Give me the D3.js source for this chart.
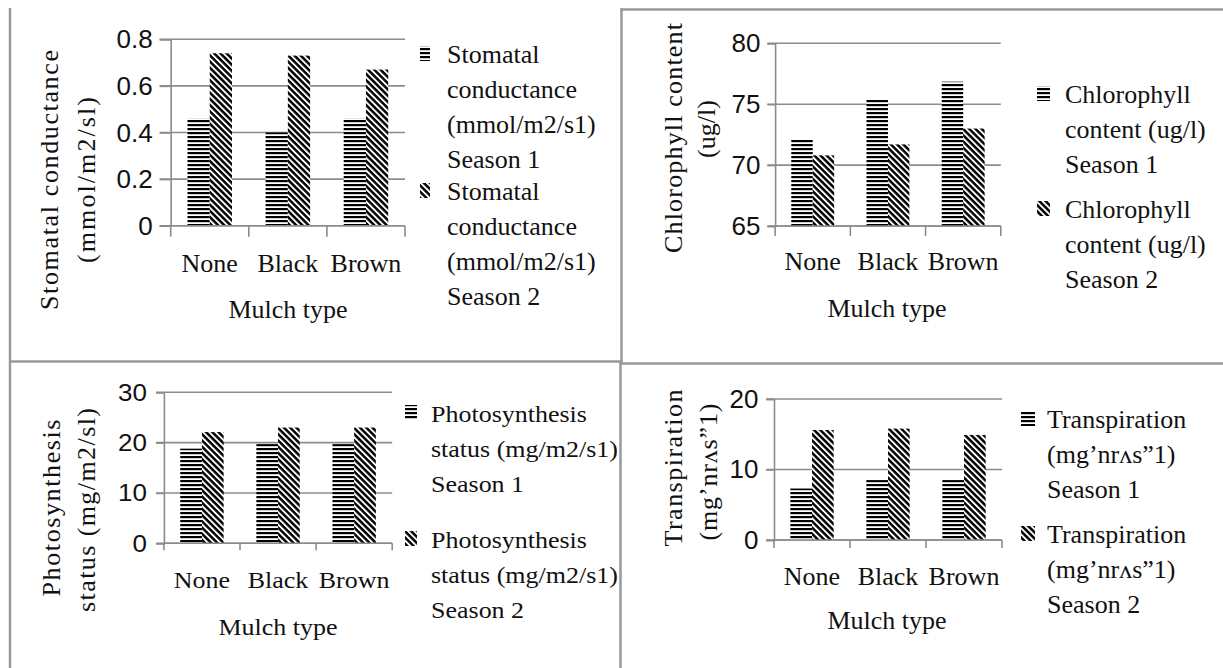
<!DOCTYPE html>
<html>
<head>
<meta charset="utf-8">
<script src="https://cdn.jsdelivr.net/npm/d3@7"></script>
<style>
  html, body { margin: 0; padding: 0; background: #fff; }
  svg { display: block; font-family: "Liberation Serif", "Times New Roman", Tinos, serif; }
</style>
</head>
<body>
<div class="container"></div>
<script>
// ---- data ----
const categories = ["None", "Black", "Brown"]

const stomatalS1 = [0.46, 0.40, 0.46]
const stomatalS2 = [0.74, 0.73, 0.67]
const stomatalTicks = [0, 0.2, 0.4, 0.6, 0.8]

const chlorophyllS1 = [72.1, 75.4, 76.85]
const chlorophyllS2 = [70.8, 71.7, 73.0]
const chlorophyllTicks = [65, 70, 75, 80]

const photoS1 = [18.8, 19.7, 19.7]
const photoS2 = [22.1, 23.0, 23.0]
const photoTicks = [0, 10, 20, 30]

const transS1 = [7.3, 8.5, 8.5]
const transS2 = [15.6, 15.8, 14.9]
const transTicks = [0, 10, 20]

const xTitle = "Mulch type"
const stomatalTitle = ["Stomatal conductance", "(mmol/m2/sl)"]
const chlorophyllTitle = ["Chlorophyll content", "(ug/l)"]
const photoTitle = ["Photosynthesis", "status (mg/m2/sl)"]
const transTitle = ["Transpiration", "(mg\u2019nr\u028Cs\u201D1)"]

const stomatalLegend = [["Stomatal", "conductance", "(mmol/m2/s1)", "Season 1"],
                        ["Stomatal", "conductance", "(mmol/m2/s1)", "Season 2"]]
const chlorophyllLegend = [["Chlorophyll", "content (ug/l)", "Season 1"],
                           ["Chlorophyll", "content (ug/l)", "Season 2"]]
const photoLegend = [["Photosynthesis", "status (mg/m2/s1)", "Season 1"],
                     ["Photosynthesis", "status (mg/m2/s1)", "Season 2"]]
const transLegend = [["Transpiration", "(mg\u2019nr\u028Cs\u201D1)", "Season 1"],
                     ["Transpiration", "(mg\u2019nr\u028Cs\u201D1)", "Season 2"]]

const w = 1223
const h = 668
const gridColor = "#8c8c8c"
const ink = "#111"

// layout of each of the four panels (fs = font size, sy = vertical text stretch)
const panels = [
    { s1: stomatalS1, s2: stomatalS2, ticks: stomatalTicks, title: stomatalTitle, legend: stomatalLegend,
      left: 170.7, right: 405, top: 39.3, bottom: 225.7, yTick: 11, xTick: 11, labelGap: 18,
      fs: 26, sy: 1.0, catY: 263, mulchX: 288, mulchY: 309,
      titleX: [49, 86], titleY: [180, 180], titleLen: [260, 166],
      legX: 420, legW: 10, legTextX: 447, legY: [63, 200] },
    { s1: chlorophyllS1, s2: chlorophyllS2, ticks: chlorophyllTicks, title: chlorophyllTitle, legend: chlorophyllLegend,
      left: 775.1, right: 1000.8, top: 43.3, bottom: 226, yTick: 7.7, xTick: 10, labelGap: 14.7,
      fs: 26, sy: 0.97, catY: 261.7, mulchX: 887, mulchY: 309,
      titleX: [673, 706], titleY: [138, 129], titleLen: [230, null],
      legX: 1037, legW: 13, legTextX: 1065, legY: [103, 218] },
    { s1: photoS1, s2: photoS2, ticks: photoTicks, title: photoTitle, legend: photoLegend,
      left: 163.9, right: 392.2, top: 392.3, bottom: 543.3, yTick: 7.9, xTick: 7, labelGap: 17,
      fs: 26, sy: 0.9, catY: 580, mulchX: 278, mulchY: 627,
      titleX: [51, 86], titleY: [508, 510], titleLen: [177, 204],
      legX: 405, legW: 12, legTextX: 431, legY: [422, 548], clip: 620 },
    { s1: transS1, s2: transS2, ticks: transTicks, title: transTitle, legend: transLegend,
      left: 774, right: 1002, top: 399, bottom: 540, yTick: 7.8, xTick: 8, labelGap: 15.5,
      fs: 26, sy: 0.97, catY: 576.7, mulchX: 887, mulchY: 621,
      titleX: [673, 708], titleY: [468, 472], titleLen: [157, 137],
      legX: 1021, legW: 14, legTextX: 1047, legY: [428, 543] }
]

const svg = d3.select(".container")
    .append("svg")
    .attr("width", w)
    .attr("height", h)

const defs = svg.append("defs")

// season 1: horizontal stripes
const hp = defs.append("pattern")
    .attr("id", "hstripe")
    .attr("patternUnits", "userSpaceOnUse")
    .attr("width", 4).attr("height", 4)
hp.append("rect").attr("width", 4).attr("height", 4).attr("fill", "#fff")
hp.append("rect").attr("width", 4).attr("height", 2.2).attr("fill", "#000")

// season 2: diagonal stripes going down to the right
const dp = defs.append("pattern")
    .attr("id", "dstripe")
    .attr("patternUnits", "userSpaceOnUse")
    .attr("width", 4.4).attr("height", 4.4)
    .attr("patternTransform", "rotate(45)")
dp.append("rect").attr("width", 4.4).attr("height", 4.4).attr("fill", "#fff")
dp.append("rect").attr("width", 4.4).attr("height", 2.5).attr("fill", "#000")

const fills = ["url(#hstripe)", "url(#dstripe)"]

// panel frame lines
const frame = [
    [10, 8, 10, h], [10, 361.5, 621, 361.5], [621.5, 8, 621.5, 363],
    [621, 9.5, w, 9.5], [621, 363.5, w, 363.5], [620.5, 362, 620.5, h]
]
svg.append("g")
    .selectAll("line")
    .data(frame)
    .enter()
    .append("line")
    .attr("x1", d => d[0]).attr("y1", d => d[1])
    .attr("x2", d => d[2]).attr("y2", d => d[3])
    .attr("stroke", "#999")
    .attr("stroke-width", 2.5)

// text centred on (x, y), stretched vertically by sy
const label = (parent, x, y, str, p) => parent.append("text")
    .attr("transform", `translate(${x},${y}) scale(1,${p.sy})`)
    .attr("dy", "0.33em")
    .attr("text-anchor", "middle")
    .attr("font-size", p.fs)
    .attr("fill", ink)
    .text(str)

panels.forEach((p, pi) => {
    const g = svg.append("g")

    const y = d3.scaleLinear()
        .domain(d3.extent(p.ticks))
        .range([p.bottom, p.top])

    const x = d3.scaleBand()
        .domain(categories)
        .range([p.left, p.right])
        .paddingInner(0.43)
        .paddingOuter(0.215)

    const xs = d3.scaleBand()
        .domain([0, 1])
        .range([0, x.bandwidth()])

    // gridlines
    g.append("g")
        .selectAll("line")
        .data(p.ticks)
        .enter()
        .append("line")
        .attr("x1", p.left - p.yTick)
        .attr("x2", p.right)
        .attr("y1", d => y(d))
        .attr("y2", d => y(d))
        .attr("stroke", gridColor)
        .attr("stroke-width", 1.6)

    // y axis
    const yAxis = g.append("g")
        .attr("transform", `translate(${p.left},0)`)
        .call(d3.axisLeft(y).tickValues(p.ticks).tickSize(p.yTick).tickPadding(p.labelGap - p.yTick).tickFormat(d => d))
    yAxis.select(".domain").attr("stroke", gridColor).attr("stroke-width", 1.6)
    yAxis.selectAll(".tick line").attr("stroke", gridColor).attr("stroke-width", 1.6)
    yAxis.selectAll(".tick text")
        .attr("font-size", p.fs)
        .attr("font-family", null)
        .attr("fill", ink)
        .attr("dy", "0.33em")
        .attr("transform", `scale(1,${p.sy})`)

    // bars
    const groups = g.append("g")
        .selectAll("g")
        .data(categories)
        .enter()
        .append("g")
        .attr("transform", d => `translate(${x(d)},0)`)

    groups.selectAll("rect")
        .data((d, i) => [p.s1[i], p.s2[i]])
        .enter()
        .append("rect")
        .attr("x", (d, i) => xs(i))
        .attr("width", xs.bandwidth())
        .attr("y", d => y(d))
        .attr("height", d => p.bottom - y(d))
        .attr("fill", (d, i) => fills[i])

    // x axis line and tick marks at category boundaries
    g.append("line")
        .attr("x1", p.left).attr("x2", p.right)
        .attr("y1", p.bottom).attr("y2", p.bottom)
        .attr("stroke", gridColor).attr("stroke-width", 1.6)

    const bounds = d3.range(categories.length + 1).map(i => p.left + i * x.step())
    g.append("g")
        .selectAll("line")
        .data(bounds)
        .enter()
        .append("line")
        .attr("x1", d => d).attr("x2", d => d)
        .attr("y1", p.bottom).attr("y2", p.bottom + p.xTick)
        .attr("stroke", gridColor).attr("stroke-width", 1.6)

    categories.forEach(c => label(g, x(c) + x.bandwidth() / 2, p.catY, c, p))
    label(g, p.mulchX, p.mulchY, xTitle, p)

    // rotated y title, two lines
    p.title.forEach((t, i) => {
        const tt = g.append("text")
            .attr("transform", `translate(${p.titleX[i]},${p.titleY[i]}) rotate(-90)`)
            .attr("dy", "0.33em")
            .attr("text-anchor", "middle")
            .attr("font-size", p.fs)
            .attr("fill", ink)
            .text(t)
        if (p.titleLen[i]) tt.attr("textLength", p.titleLen[i]).attr("lengthAdjust", "spacing")
    })

    // legend
    const leg = g.append("g")
    if (p.clip) {
        defs.append("clipPath").attr("id", "clip" + pi)
            .append("rect").attr("x", 0).attr("y", 0).attr("width", p.clip).attr("height", h)
        leg.attr("clip-path", `url(#clip${pi})`)
    }
    p.legend.forEach((lines, k) => {
        leg.append("rect")
            .attr("x", p.legX)
            .attr("y", p.legY[k] - 17)
            .attr("width", p.legW)
            .attr("height", 15)
            .attr("fill", fills[k])
        lines.forEach((line, i) => {
            leg.append("text")
                .attr("transform", `translate(${p.legTextX},${p.legY[k] + 35 * i}) scale(1,${p.sy})`)
                .attr("font-size", p.fs)
                .attr("fill", ink)
                .text(line)
        })
    })
})
</script>
</body>
</html>
